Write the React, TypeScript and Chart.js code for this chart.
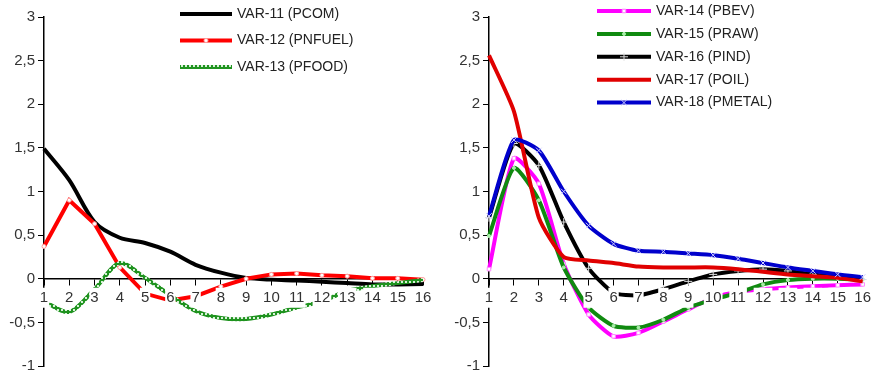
import React, { useEffect, useRef } from 'react';
import { Chart, registerables } from 'chart.js';
import { drawPoint } from 'chart.js/helpers';
Chart.register(...registerables);

const categories = ['1', '2', '3', '4', '5', '6', '7', '8', '9', '10', '11', '12', '13', '14', '15', '16'];
const yMin = -1;
const yMax = 3;
const yStep = 0.5;

// Left panel
const pcom = [1.49, 1.13, 0.65, 0.47, 0.41, 0.31, 0.16, 0.07, 0.01, -0.01, -0.02, -0.035, -0.05, -0.065, -0.065, -0.06];
const pnfuel = [0.37, 0.9, 0.63, 0.13, -0.17, -0.25, -0.2, -0.09, 0.0, 0.05, 0.06, 0.04, 0.03, 0.005, 0.005, -0.01];
const pfood = [-0.26, -0.38, -0.12, 0.18, 0.01, -0.19, -0.37, -0.45, -0.46, -0.41, -0.33, -0.26, -0.14, -0.085, -0.05, -0.015];

// Right panel
const pbev = [0.11, 1.38, 1.09, 0.17, -0.41, -0.66, -0.62, -0.49, -0.35, -0.22, -0.15, -0.12, -0.1, -0.085, -0.075, -0.065];
const praw = [0.49, 1.27, 0.9, 0.13, -0.33, -0.54, -0.56, -0.47, -0.33, -0.24, -0.16, -0.065, -0.015, 0, 0, -0.01];
const pind = [0.7, 1.55, 1.3, 0.65, 0.12, -0.16, -0.19, -0.12, -0.03, 0.05, 0.09, 0.11, 0.09, 0.05, 0.02, -0.01];
const poil = [2.56, 1.92, 0.7, 0.25, 0.21, 0.18, 0.14, 0.13, 0.13, 0.13, 0.11, 0.08, 0.05, 0.03, 0.01, -0.03];
const pmetal = [0.72, 1.59, 1.47, 1.0, 0.61, 0.4, 0.32, 0.31, 0.29, 0.27, 0.23, 0.18, 0.13, 0.09, 0.05, 0.02];

const FONT = '"Liberation Sans", Arial, sans-serif';

function ringPattern(): any {
  const tile = document.createElement('canvas');
  tile.width = 4;
  tile.height = 4;
  const t = tile.getContext('2d')!;
  t.fillStyle = '#1f931f';
  t.fillRect(0, 0, 4, 4);
  t.fillStyle = '#d8f0d8';
  t.fillRect(1, 1, 2, 2);
  return t.createPattern(tile, 'repeat');
}

const legendPlugin = {
  id: 'manualLegend',
  afterDraw(chart: any, _args: any, opts: any) {
    const ctx = chart.ctx;
    const { x, y, dy, len, gap } = opts;
    chart.data.datasets.forEach((ds: any, i: number) => {
      const yy = y + i * dy;
      ctx.save();
      ctx.strokeStyle = ds.borderColor;
      ctx.lineWidth = ds.borderWidth;
      ctx.setLineDash(ds.borderDash || []);
      ctx.lineCap = 'butt';
      ctx.beginPath();
      ctx.moveTo(x, yy);
      ctx.lineTo(x + len, yy);
      ctx.stroke();
      ctx.setLineDash([]);
      if (ds.pointRadius > 0) {
        ctx.fillStyle = ds.pointBackgroundColor;
        ctx.strokeStyle = ds.pointBorderColor;
        ctx.lineWidth = ds.pointBorderWidth;
        drawPoint(ctx, { pointStyle: ds.pointStyle, radius: ds.pointRadius, borderWidth: ds.pointBorderWidth, rotation: 0 } as any, x + len / 2, yy);
      }
      ctx.fillStyle = '#222';
      ctx.font = '14px ' + FONT;
      ctx.textBaseline = 'middle';
      ctx.textAlign = 'left';
      ctx.fillText(ds.label, x + len + gap, yy);
      ctx.restore();
    });
  },
};

function makeLine(label: string, data: number[], color: any, extra: any, order: number) {
  return {
    label,
    data,
    borderColor: color,
    backgroundColor: color,
    borderWidth: 4,
    pointRadius: 0,
    tension: 0.2,
    fill: false,
    order,
    ...extra,
  };
}

function Panel(props: { left: number; width: number; padRight: number; build: () => any[]; legend: any }) {
  const ref = useRef<HTMLCanvasElement>(null);
  useEffect(() => {
    if (!ref.current) return;
    const tickFont = { family: FONT, size: 15 };
    const chart = new Chart(ref.current, {
      type: 'line',
      data: { labels: categories, datasets: props.build() },
      plugins: [legendPlugin],
      options: {
        animation: false,
        responsive: false,
        maintainAspectRatio: false,
        devicePixelRatio: 1,
        layout: { padding: { top: 17, bottom: 10, left: 0, right: props.padRight } },
        plugins: {
          legend: { display: false },
          tooltip: { enabled: false },
          manualLegend: props.legend,
        } as any,
        scales: {
          x: {
            type: 'category',
            offset: false,
            position: { y: 0 } as any,
            grid: { drawOnChartArea: false, tickLength: 6, color: '#000', lineWidth: 1 },
            border: { color: '#000', width: 1.5 },
            ticks: {
              z: 1,
              font: tickFont,
              color: '#333',
              padding: 4,
              maxRotation: 0,
              autoSkip: false,
              showLabelBackdrop: true,
              backdropColor: '#fff',
              backdropPadding: 1,
            } as any,
          },
          y: {
            min: yMin,
            max: yMax,
            grid: { drawOnChartArea: false, tickLength: 6, color: '#000', lineWidth: 1 },
            border: { color: '#000', width: 1.5 },
            ticks: {
              stepSize: yStep,
              font: tickFont,
              color: '#333',
              padding: 3,
              callback: (v: any) => String(v).replace('.', ','),
            },
            afterFit: (s: any) => {
              s.width = 44;
            },
          },
        },
      },
    });
    return () => chart.destroy();
  }, []);
  return (
    <canvas
      ref={ref}
      width={props.width}
      height={378}
      style={{ position: 'absolute', left: props.left, top: 0, width: props.width, height: 378 }}
    />
  );
}

const buildLeft = () => [
  makeLine('VAR-11 (PCOM)', pcom, '#000000', { tension: 0.3 }, 3),
  makeLine('VAR-12 (PNFUEL)', pnfuel, '#ff0000', {
    tension: 0,
    pointRadius: 2,
    pointStyle: 'circle',
    pointBackgroundColor: '#ffffff',
    pointBorderColor: '#ff9999',
    pointBorderWidth: 1,
  }, 2),
  makeLine('VAR-13 (PFOOD)', pfood, ringPattern(), { tension: 0.3, borderWidth: 4 }, 1),
];

const buildRight = () => [
  makeLine('VAR-14 (PBEV)', pbev, '#ff00ff', {
    pointRadius: 2.5,
    pointStyle: 'rect',
    pointBackgroundColor: '#ffffff',
    pointBorderColor: '#ff88ff',
    pointBorderWidth: 1,
  }, 5),
  makeLine('VAR-15 (PRAW)', praw, '#108a10', {
    pointRadius: 1.5,
    pointStyle: 'circle',
    pointBackgroundColor: '#aaeeaa',
    pointBorderColor: '#aaeeaa',
    pointBorderWidth: 1,
  }, 4),
  makeLine('VAR-16 (PIND)', pind, '#000000', {
    pointRadius: 4,
    pointStyle: 'cross',
    pointBackgroundColor: '#dddddd',
    pointBorderColor: '#dddddd',
    pointBorderWidth: 1,
  }, 3),
  makeLine('VAR-17 (POIL)', poil, '#e00000', {}, 2),
  makeLine('VAR-18 (PMETAL)', pmetal, '#0000cc', {
    pointRadius: 4,
    pointStyle: 'crossRot',
    pointBackgroundColor: '#ccccff',
    pointBorderColor: '#ccccff',
    pointBorderWidth: 1,
  }, 1),
];

export default function App() {
  return (
    <div style={{ position: 'absolute', left: 0, top: 0, width: 875, height: 378, background: '#fff', overflow: 'hidden' }}>
      <Panel left={0} width={437} padRight={14} build={buildLeft} legend={{ x: 180, y: 14, dy: 26.5, len: 52, gap: 5 }} />
      <Panel left={445} width={430} padRight={7} build={buildRight} legend={{ x: 152, y: 11, dy: 22.9, len: 54, gap: 5 }} />
    </div>
  );
}
